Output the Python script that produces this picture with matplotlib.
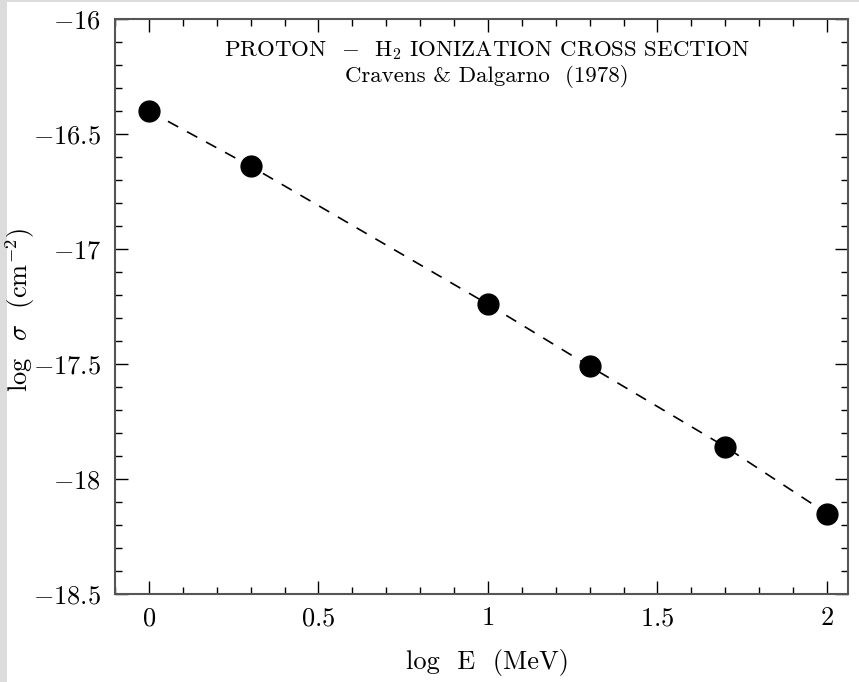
import matplotlib
matplotlib.use("Agg")
import matplotlib.pyplot as plt
from matplotlib.ticker import MultipleLocator, FuncFormatter
from matplotlib.patches import Rectangle

# Proton - H2 ionization cross section (Cravens & Dalgarno 1978)
log_e = [0.0, 0.3, 1.0, 1.3, 1.7, 2.0]
log_sigma = [-16.40, -16.64, -17.24, -17.51, -17.86, -18.15]

x_ticks = [0, 0.5, 1, 1.5, 2]
y_ticks = [-18.5, -18, -17.5, -17, -16.5, -16]

plt.rcParams['mathtext.fontset'] = 'cm'
plt.rcParams['font.family'] = ['cmr10', 'DejaVu Serif']

fig = plt.figure(figsize=(8.59, 6.82), dpi=100)
fig.patch.set_facecolor('#dcdcdc')
# white page with a thin grey margin on the left and top
fig.patches.append(Rectangle((7 / 859, 0), 1, 680 / 682, transform=fig.transFigure,
                             facecolor='white', edgecolor='none', zorder=-5))

ax = fig.add_axes([115 / 859, 1 - 594 / 682, 733 / 859, 575 / 682])
ax.set_facecolor('white')

line, = ax.plot(log_e, log_sigma, color='black', lw=1.2, ls='--')
line.set_dashes((7, 6))
ax.plot(log_e, log_sigma, 'o', color='black', ms=15, ls='none')

ax.set_xlim(-0.1, 2.062)
ax.set_ylim(-18.5, -16)

ax.xaxis.set_minor_locator(MultipleLocator(0.1))
ax.yaxis.set_minor_locator(MultipleLocator(0.1))
ax.set_xticks(x_ticks)
ax.set_yticks(y_ticks)


def fmt(v, pos):
    s = f'{abs(v):g}'
    if v < 0:
        return r'$-' + s + '$'
    return r'$' + s + '$'


ax.xaxis.set_major_formatter(FuncFormatter(fmt))
ax.yaxis.set_major_formatter(FuncFormatter(fmt))

ax.tick_params(which='both', direction='in', top=True, right=True, color='black', width=1)
ax.tick_params(which='major', length=9.5, labelsize=19, pad=9)
ax.tick_params(which='minor', length=4.8)
ax.tick_params(axis='y', which='major', pad=10)

for sp in ax.spines.values():
    sp.set_color('#555555')
    sp.set_linewidth(1.5)

ax.text(0.5075, 0.935, r'PROTON  $-$  H$_2$ IONIZATION CROSS SECTION',
        transform=ax.transAxes, ha='center', va='baseline', fontsize=16.5)
ax.text(0.5075, 0.891, 'Cravens & Dalgarno  (1978)',
        transform=ax.transAxes, ha='center', va='baseline', fontsize=16.5)

fig.text(487 / 859, 1 - 663 / 682, 'log  E  (MeV)',
         ha='center', va='center', fontsize=19)
fig.text(20 / 859, 1 - 310 / 682, r'log  $\sigma$  (cm$^{-2}$)',
         ha='center', va='center', rotation=90, fontsize=19)

fig.savefig('out.png', dpi=100)
